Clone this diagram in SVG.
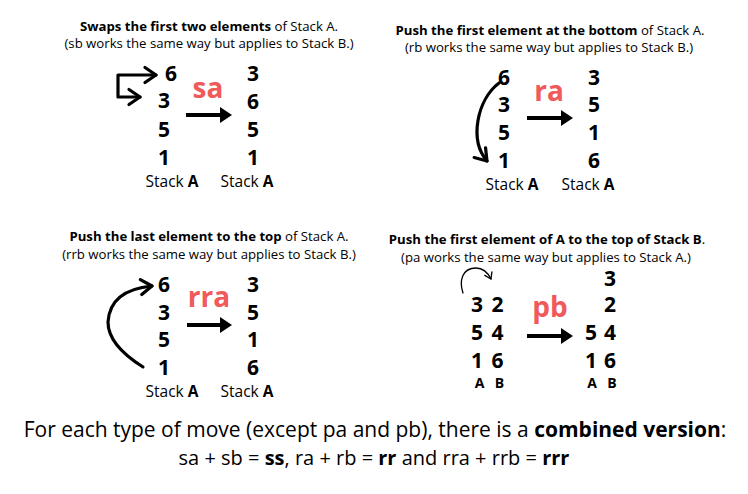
<svg xmlns="http://www.w3.org/2000/svg" width="748" height="494" viewBox="0 0 748 494">
<style>
text{font-family:"Open Sans","Noto Sans","Liberation Sans",sans-serif;fill:#000}
.t{font-size:13.2px;text-anchor:middle}
.b{font-weight:700}
.d{font-size:21px;font-weight:700;text-anchor:middle}
.op{font-size:28px;font-weight:700;fill:#f05a5a;text-anchor:middle}
.lb{font-size:15.5px;text-anchor:middle}
.ab{font-size:14px;font-weight:700;text-anchor:middle}
.ft{font-size:21px;text-anchor:middle}
.ft2{font-size:20px;text-anchor:middle}
.ar{stroke:#000;stroke-width:4;fill:none;marker-end:url(#head)}
.cv{stroke:#000;stroke-width:3.2;fill:none;stroke-linecap:round;stroke-linejoin:round;marker-end:url(#chev)}
.sm{stroke:#000;stroke-width:1.3;fill:none;stroke-linecap:round;marker-end:url(#chevS)}
</style>
<defs>
<marker id="head" viewBox="0 0 12 16" refX="4" refY="8" markerWidth="12" markerHeight="16" markerUnits="userSpaceOnUse" orient="auto"><path d="M0,0 L12,8 L0,16 Z" fill="#000"/></marker>
<marker id="chev" viewBox="-14 -10 17 20" refX="0" refY="0" markerWidth="17" markerHeight="20" markerUnits="userSpaceOnUse" orient="auto-start-reverse"><path d="M-11,-7.5 L0,0 L-11,7.5" fill="none" stroke="#000" stroke-width="3.2" stroke-linecap="round" stroke-linejoin="round"/></marker>
<marker id="chevS" viewBox="-8 -6 10 12" refX="0" refY="0" markerWidth="10" markerHeight="12" markerUnits="userSpaceOnUse" orient="auto"><path d="M-6,-4 L0,0 L-6,4" fill="none" stroke="#000" stroke-width="1.3" stroke-linecap="round" stroke-linejoin="round"/></marker>
</defs>

<g id="panel-sa">
<text class="t" x="209" y="31"><tspan class="b">Swaps the first two elements</tspan> of Stack A.</text>
<text class="t" x="209" y="48">(sb works the same way but applies to Stack B.)</text>
<text class="d" x="171" y="81">6</text>
<text class="d" x="164" y="108">3</text>
<text class="d" x="164" y="137">5</text>
<text class="d" x="164" y="165">1</text>
<text class="d" x="253" y="81">3</text>
<text class="d" x="253" y="109">6</text>
<text class="d" x="253" y="137">5</text>
<text class="d" x="253" y="165">1</text>
<text class="op" x="208" y="98">sa</text>
<text class="lb" x="172" y="187">Stack <tspan class="b">A</tspan></text>
<text class="lb" x="247" y="187">Stack <tspan class="b">A</tspan></text>
</g>

<g id="panel-ra">
<text class="t" x="550" y="35"><tspan class="b">Push the first element at the bottom</tspan> of Stack A.</text>
<text class="t" x="549" y="52">(rb works the same way but applies to Stack B.)</text>
<text class="d" x="504" y="85">6</text>
<text class="d" x="504" y="112">3</text>
<text class="d" x="504" y="140">5</text>
<text class="d" x="504" y="168">1</text>
<text class="d" x="594" y="85">3</text>
<text class="d" x="594" y="112">5</text>
<text class="d" x="594" y="140">1</text>
<text class="d" x="594" y="168">6</text>
<text class="op" x="549" y="101">ra</text>
<text class="lb" x="512" y="190">Stack <tspan class="b">A</tspan></text>
<text class="lb" x="588" y="190">Stack <tspan class="b">A</tspan></text>
</g>

<g id="panel-rra">
<text class="t" x="209" y="241"><tspan class="b">Push the last element to the top</tspan> of Stack A.</text>
<text class="t" x="209" y="259">(rrb works the same way but applies to Stack B.)</text>
<text class="d" x="164" y="292">6</text>
<text class="d" x="164" y="320">3</text>
<text class="d" x="164" y="347">5</text>
<text class="d" x="164" y="375">1</text>
<text class="d" x="253" y="292">3</text>
<text class="d" x="253" y="320">5</text>
<text class="d" x="253" y="347">1</text>
<text class="d" x="253" y="375">6</text>
<text class="op" x="209" y="307">rra</text>
<text class="lb" x="172" y="397">Stack <tspan class="b">A</tspan></text>
<text class="lb" x="247" y="397">Stack <tspan class="b">A</tspan></text>
</g>

<g id="panel-pb">
<text class="t" x="547" y="244"><tspan class="b">Push the first element of A to the top of Stack B</tspan>.</text>
<text class="t" x="546" y="262">(pa works the same way but applies to Stack A.)</text>
<text class="d" x="477" y="312">3</text>
<text class="d" x="497.5" y="312">2</text>
<text class="d" x="477" y="340">5</text>
<text class="d" x="497.5" y="340">4</text>
<text class="d" x="477" y="368">1</text>
<text class="d" x="497.5" y="368">6</text>
<text class="ab" x="479.5" y="388">A</text>
<text class="ab" x="499.5" y="388">B</text>
<text class="d" x="610" y="286">3</text>
<text class="d" x="610" y="312">2</text>
<text class="d" x="591" y="340">5</text>
<text class="d" x="610" y="340">4</text>
<text class="d" x="591" y="368">1</text>
<text class="d" x="610" y="368">6</text>
<text class="ab" x="592" y="388">A</text>
<text class="ab" x="612" y="388">B</text>
<text class="op" x="550" y="317">pb</text>
</g>

<g id="footer">
<text class="ft" x="375" y="437">For each type of move (except pa and pb), there is a <tspan class="b">combined version</tspan>:</text>
<text class="ft2" x="374" y="465">sa + sb = <tspan class="b">ss</tspan>, ra + rb = <tspan class="b">rr</tspan> and rra + rrb = <tspan class="b">rrr</tspan></text>
</g>

<g id="connectors">
<path class="ar" d="M186,115 H224"/>
<path class="ar" d="M527,118 H565"/>
<path class="ar" d="M187,325 H224"/>
<path class="ar" d="M527,336 H565"/>
<path class="cv" d="M156,75 H118 V97 H140" style="marker-start:url(#chev)"/>
<path class="cv" d="M499,83 C477,100 469,140 487,161"/>
<path class="cv" d="M143,367 Q108,345 108,322 Q110,290 152,286"/>
<path class="sm" d="M463,293 C459,281 462,268 476,268 C483,268 488,273 491,279"/>
</g>
</svg>
